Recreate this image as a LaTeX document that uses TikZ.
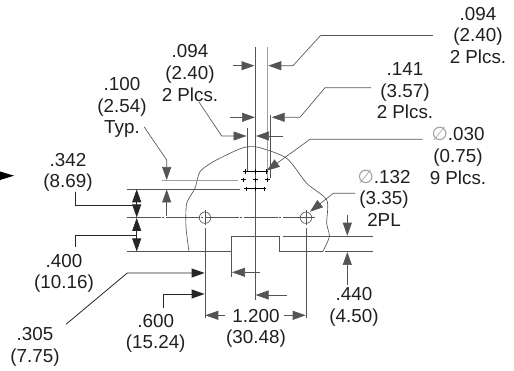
\documentclass[tikz,border=0pt]{standalone}
\usepackage{fontspec}
\setmainfont{Liberation Sans}
\newfontfamily\symfont{DejaVu Sans}
\usetikzlibrary{arrows.meta}
\definecolor{ink}{gray}{0.12}
\definecolor{linegray}{gray}{0.33}
\definecolor{palegray}{gray}{0.62}
\newcommand{\diam}{{\symfont\color{palegray}∅}}
\tikzset{
  lab/.style={font=\fontsize{18.8}{21.6}\selectfont, text=ink, align=center, inner sep=0pt},
  thin line/.style={draw=linegray, line width=0.65pt},
  dark line/.style={draw=black!85, line width=0.8pt},
  pale line/.style={draw=palegray, line width=1.3pt},
  dim/.style={thin line, -{Triangle[length=13pt,width=9pt]}},
  darkdim/.style={dark line, -{Triangle[length=13pt,width=9pt]}},
  centre/.style={draw=linegray, line width=0.65pt, dash pattern=on 34pt off 1.5pt on 2pt off 1.5pt},
  pin/.style={draw=black, line width=1pt},
}
\begin{document}
\begin{tikzpicture}[x=1pt,y=-1pt]
\useasboundingbox (0,0) rectangle (514,371);
% labels
\node[lab] (lA) at (190,73) {.094\\(2.40)\\2 Plcs.};
\node[lab] (lB) at (122,107.5) {.100\\(2.54)\\Typ.};
\node[lab] (lC) at (68,172.5) {.342\\(8.69)};
\node[lab] (lD) at (64,273.5) {.400\\(10.16)};
\node[lab] (lE) at (35,347) {.305\\(7.75)};
\node[lab] (lF) at (155.7,333.5) {.600\\(15.24)};
\node[lab] (lG) at (256,328.5) {1.200\\(30.48)};
\node[lab] (lH) at (354,307) {.440\\(4.50)};
\node[lab] (lI) at (478,35.5) {.094\\(2.40)\\2 Plcs.};
\node[lab] (lJ) at (405,91) {.141\\(3.57)\\2 Plcs.};
\node[lab] (lK) at (458,156) {\diam.030\\(0.75)\\9 Plcs.};
\node[lab] (lL) at (384,198) {\diam.132\\(3.35)\\2PL};
% outer contour
\draw[thin line] plot[smooth,tension=0.45] coordinates {(189,251.7) (186,226.7) (186.7,203.3) (195,188.3) (200,171.7) (213.3,161.7) (233.3,151.7) (245,147.3) (258.3,147.3) (286.7,158.3) (306.7,183.3) (326.7,200) (326.7,223.3) (329.3,236.7) (322.7,251.7)};
% part edge
\draw[thin line] (126.7,251.7) -- (231.7,251.7) -- (231.7,236) -- (279.3,236) -- (279.3,251.7) -- (322.7,251.7);
\draw[thin line] (325,251.7) -- (373.3,251.7);
\draw[thin line] (282.7,236) -- (373.3,236);
% reference lines
\draw[thin line] (126.7,189) -- (240,189);
\draw[pale line, line width=0.9pt] (161.7,180) -- (238,180);
\draw[centre] (126.7,217.7) -- (315,217.7);
\draw[thin line] (255.3,47) -- (255.3,300);
\draw[pale line] (267.3,47) -- (267.3,178);
\draw[thin line] (247,128) -- (247,172);
\draw[thin line] (270.7,115) -- (270.7,178);
\draw[thin line] (231.7,251.7) -- (231.7,277);
% holes
\node[circle,thin line,minimum size=11.4pt,inner sep=0pt] (h1) at (205,217.7) {};
\node[circle,thin line,minimum size=11.4pt,inner sep=0pt] (h2) at (306,217.7) {};
\draw[thin line] (205,210) -- (205,225);
\draw[thin line] (306,210) -- (306,225);
\draw[thin line] (205,228) -- (205,318);
\draw[thin line] (306,228) -- (306,318);
% pin rows
\draw[pin] (245,171.7) -- (267,171.7);
\draw[pin] (246.7,189) -- (264,189);
\foreach \px/\py in {245/171.7,255.3/171.7,266/171.7,243.3/180,255.3/180,267.7/180,246.7/189,255.3/189,264/189}
  \draw[pin] (\px-2.3,\py) -- (\px+2.3,\py) (\px,\py-2.3) -- (\px,\py+2.3);
% top dimensions
\draw[dim] (232.7,65.7) -- (254.5,65.7);
\draw[thin line] (320.7,35.3) -- (433,35.3);
\draw[dim] (320.7,35.3) -- (293,65.7) -- (268.3,65.7);
\draw[dim] (230,117.3) -- (255,117.3);
\draw[dim] (371,87.7) -- (325,87.7) -- (300,117.3) -- (271.7,117.3);
\draw[dim] (199,102) -- (221.7,136) -- (246.5,136);
\draw[dim] (283,136) -- (256,136);
% pin diameter leader
\draw[dim] (422.7,139.3) -- (310,139.3) -- (266.7,170.7);
% hole leader
\draw[dim] (355,193.3) -- (333.3,193.3) -- (310,211.7);
% left arrow
\fill[black] (0,171.5) -- (14,175.7) -- (0,180) -- cycle;
% left dimensions
\draw[darkdim] (75.7,191.7) -- (75.7,205.7) -- (136.7,205.7) -- (136.7,189.3);
\draw[darkdim] (136.7,205.7) -- (136.7,217.4);
\draw[darkdim] (75.7,246.7) -- (75.7,235) -- (136.7,235) -- (136.7,218);
\draw[darkdim] (136.7,235) -- (136.7,251.4);
\draw[dim] (144,126.7) -- (166.7,160) -- (166.7,180);
\draw[dim] (166.7,216) -- (166.7,189.5);
% bottom dimensions
\draw[darkdim] (66,324.3) -- (127.3,273) -- (204.6,273);
\draw[darkdim] (163.3,308.3) -- (163.3,294) -- (204.6,294);
\draw[dim] (260,272.3) -- (232,272.3);
\draw[dim] (286.7,295) -- (255.6,295);
\draw[dim] (225,315.3) -- (205.3,315.3);
\draw[dim] (284.3,315.3) -- (305.7,315.3);
\draw[dim] (347.3,215) -- (347.3,235.7);
\draw[dim] (347.3,285) -- (347.3,252);
\end{tikzpicture}
\end{document}
